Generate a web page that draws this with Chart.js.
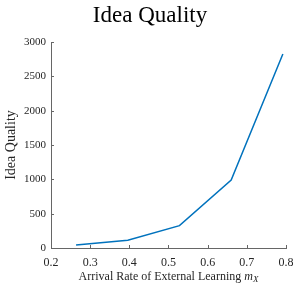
<!DOCTYPE html>
<html>
<head>
<meta charset="utf-8">
<script src="https://cdn.jsdelivr.net/npm/chart.js@4/dist/chart.umd.min.js"></script>
<style>
  html, body { margin: 0; padding: 0; background: #fff; }
  #wrap { width: 293px; height: 285px; }
</style>
</head>
<body>
<div id="wrap"><canvas id="Chart"></canvas></div>
<script>
const arrivalRate = [0.264, 0.396, 0.528, 0.66, 0.792];
const ideaQuality = [45, 112, 325, 990, 2825];
const xTicks = [0.2, 0.3, 0.4, 0.5, 0.6, 0.7, 0.8];
const yTicks = [0, 500, 1000, 1500, 2000, 2500, 3000];

const serif = "'Liberation Serif', 'DejaVu Serif', serif";
const axisColor = '#666666';

// ticks pointing into the plot, drawn from the scales
const inwardTicks = {
    id: 'inwardTicks',
    afterDraw(chart) {
        const ctx = chart.ctx;
        const x = chart.scales.x, y = chart.scales.y;
        ctx.save();
        ctx.strokeStyle = axisColor;
        ctx.lineWidth = 1;
        ctx.beginPath();
        xTicks.forEach(v => {
            const px = Math.round(x.getPixelForValue(v)) + 0.5;
            ctx.moveTo(px, y.bottom);
            ctx.lineTo(px, y.bottom - 3);
        });
        yTicks.forEach(v => {
            const py = Math.round(y.getPixelForValue(v)) + 0.5;
            ctx.moveTo(x.left, py);
            ctx.lineTo(x.left + 3, py);
        });
        ctx.stroke();

        // x axis title with math m_X
        const main = 'Arrival Rate of External Learning ';
        ctx.fillStyle = '#262626';
        ctx.textBaseline = 'alphabetic';
        ctx.font = '12px ' + serif;
        const w1 = ctx.measureText(main).width;
        ctx.font = 'italic 12px ' + serif;
        const w2 = ctx.measureText('m').width;
        ctx.font = 'italic 9px ' + serif;
        const w3 = ctx.measureText('X').width;
        const cx = (x.left + x.right) / 2;
        let sx = cx - (w1 + w2 + w3) / 2;
        const by = 280;
        ctx.textAlign = 'left';
        ctx.font = '12px ' + serif;
        ctx.fillText(main, sx, by);
        sx += w1;
        ctx.font = 'italic 12px ' + serif;
        ctx.fillText('m', sx, by);
        sx += w2;
        ctx.font = 'italic 9px ' + serif;
        ctx.fillText('X', sx, by + 2);
        ctx.restore();
    }
};

new Chart(document.getElementById('Chart'), {
    type: 'line',
    data: {
        datasets: [{
            data: arrivalRate.map((v, i) => ({ x: v, y: ideaQuality[i] })),
            borderColor: '#0072BD',
            borderWidth: 1.5,
            pointRadius: 0,
            fill: false,
            tension: 0
        }]
    },
    options: {
        responsive: true,
        maintainAspectRatio: false,
        animation: false,
        layout: { padding: { left: 14, right: 7, top: 0, bottom: 0 } },
        plugins: {
            legend: { display: false },
            tooltip: { enabled: false },
            title: {
                display: true,
                text: 'Idea Quality',
                color: '#000',
                font: { family: serif, size: 23, weight: 'normal' },
                padding: { top: 2, bottom: 12.4 }
            }
        },
        scales: {
            x: {
                type: 'linear',
                min: 0.2,
                max: 0.8,
                afterBuildTicks: s => { s.ticks = xTicks.map(v => ({ value: v })); },
                afterFit: s => { s.height = 37; s.paddingLeft = 0; s.paddingRight = 0; },
                grid: { display: false, drawTicks: false, tickLength: 0 },
                border: { display: true, color: axisColor, width: 1 },
                ticks: {
                    color: '#262626',
                    padding: 8,
                    maxRotation: 0,
                    font: { family: serif, size: 12 },
                    callback: v => v.toFixed(1)
                }
            },
            y: {
                min: 0,
                max: 3000,
                afterBuildTicks: s => { s.ticks = yTicks.map(v => ({ value: v })); },
                afterFit: s => { s.width = 37; },
                grid: { display: false, drawTicks: false, tickLength: 0 },
                border: { display: true, color: axisColor, width: 1 },
                title: {
                    display: true,
                    text: 'Idea Quality',
                    color: '#262626',
                    font: { family: serif, size: 14 },
                    padding: { top: -11, bottom: 0 }
                },
                ticks: {
                    color: '#262626',
                    padding: 5,
                    font: { family: serif, size: 11 },
                    callback: v => String(v)
                }
            }
        }
    },
    plugins: [inwardTicks]
});
</script>
</body>
</html>
